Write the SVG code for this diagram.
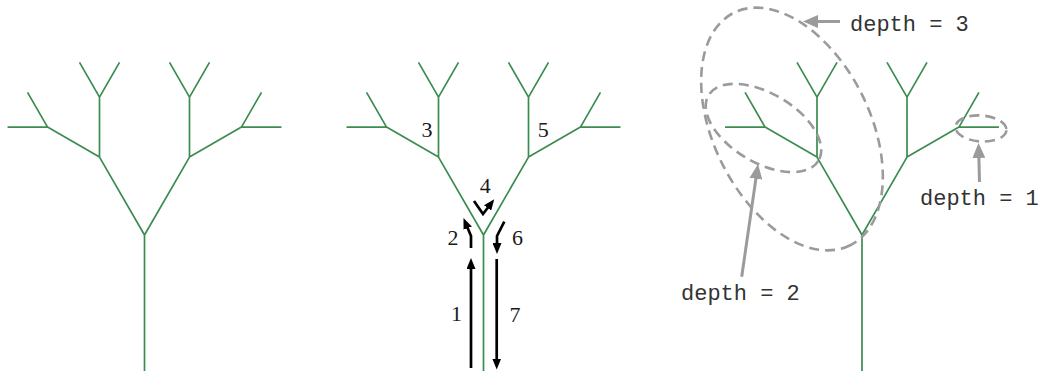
<svg xmlns="http://www.w3.org/2000/svg" xmlns:xlink="http://www.w3.org/1999/xlink" width="1043" height="373" viewBox="0 0 1043 373">
  <style>
    .branch { fill: none; stroke: #3c8c4f; stroke-width: 1.7; stroke-linejoin: round; stroke-linecap: butt; }
    .step { fill: none; stroke: #000; stroke-width: 2.7; stroke-linejoin: miter; }
    .step-num { font-family: "Liberation Serif", "Times New Roman", serif; font-size: 22px; fill: #1a1a1a; text-anchor: middle; }
    .scope { fill: none; stroke: #9b9b9e; stroke-width: 2.6; stroke-dasharray: 10 6; }
    .pointer { fill: none; stroke: #9b9b9e; stroke-width: 3; }
    .depth-label { font-family: "Liberation Mono", "Courier New", monospace; font-size: 22px; fill: #333; }
  </style>
  <defs>
    <!-- binary tree, depth 3, trunk base at (0,371); branch lengths 135/90/60/40, +-30 deg per level -->
    <path id="tree" d="M0,371 V235
      M-45,157.06 L0,235 L45,157.06
      M-136.96,127.06 H-96.96 L-45,157.06 V97.06
      M-116.96,92.42 L-96.96,127.06
      M-65,62.42 L-45,97.06 L-25,62.42
      M136.96,127.06 H96.96 L45,157.06 V97.06
      M116.96,92.42 L96.96,127.06
      M65,62.42 L45,97.06 L25,62.42"/>
    <marker id="head-black" markerUnits="userSpaceOnUse" markerWidth="11" markerHeight="9" refX="5" refY="4.5" orient="auto">
      <path d="M0,0 L11,4.5 L0,9 z" fill="#000"/>
    </marker>
    <marker id="head-gray" markerUnits="userSpaceOnUse" markerWidth="15" markerHeight="13" refX="7" refY="6.5" orient="auto">
      <path d="M0,0 L15,6.5 L0,13 z" fill="#9b9b9e"/>
    </marker>
  </defs>

  <!-- plain tree -->
  <g id="tree-plain">
    <use xlink:href="#tree" href="#tree" class="branch" transform="translate(144.5,0)"/>
  </g>

  <!-- tree with traversal order -->
  <g id="tree-traversal">
    <use xlink:href="#tree" href="#tree" class="branch" transform="translate(483.5,0)"/>
    <text class="step-num" x="456.5" y="321">1</text>
    <text class="step-num" x="453" y="245">2</text>
    <text class="step-num" x="427" y="137">3</text>
    <text class="step-num" x="485.3" y="193">4</text>
    <text class="step-num" x="543.3" y="137">5</text>
    <text class="step-num" x="517.5" y="245">6</text>
    <text class="step-num" x="515" y="322">7</text>
  </g>

  <!-- tree with depth scopes -->
  <g id="tree-depth">
    <use xlink:href="#tree" href="#tree" class="branch" transform="translate(862,0)"/>
    <ellipse id="scope-depth-3" class="scope" cx="792" cy="129" rx="130" ry="78" transform="rotate(63.4 792 129)"/>
    <ellipse id="scope-depth-2" class="scope" cx="763.5" cy="128" rx="64" ry="34.5" transform="rotate(30.7 763.5 128)"/>
    <ellipse id="scope-depth-1" class="scope" cx="981" cy="128.5" rx="25.5" ry="13" transform="rotate(4 981 128.5)"/>
    <text class="depth-label" x="850" y="31">depth = 3</text>
    <text class="depth-label" x="681" y="300">depth = 2</text>
    <text class="depth-label" x="920" y="205">depth = 1</text>
  </g>

  <!-- connectors -->
  <g id="connectors">
    <path class="step" d="M471,368 V264" marker-end="url(#head-black)"/>
    <path class="step" d="M471,248 V236 L465.8,223.5" marker-end="url(#head-black)"/>
    <path class="step" d="M474,201 L483,214 L490.6,204" marker-end="url(#head-black)"/>
    <path class="step" d="M504.3,221.7 L497,236 V248" marker-end="url(#head-black)"/>
    <path class="step" d="M496.7,259 V363.5" marker-end="url(#head-black)"/>

    <path class="pointer" d="M840,21.5 H811" marker-end="url(#head-gray)"/>
    <path class="pointer" d="M741.7,276.7 L756.9,171.9" marker-end="url(#head-gray)"/>
    <path class="pointer" d="M979.5,182 L978.7,151" marker-end="url(#head-gray)"/>
  </g>
</svg>
